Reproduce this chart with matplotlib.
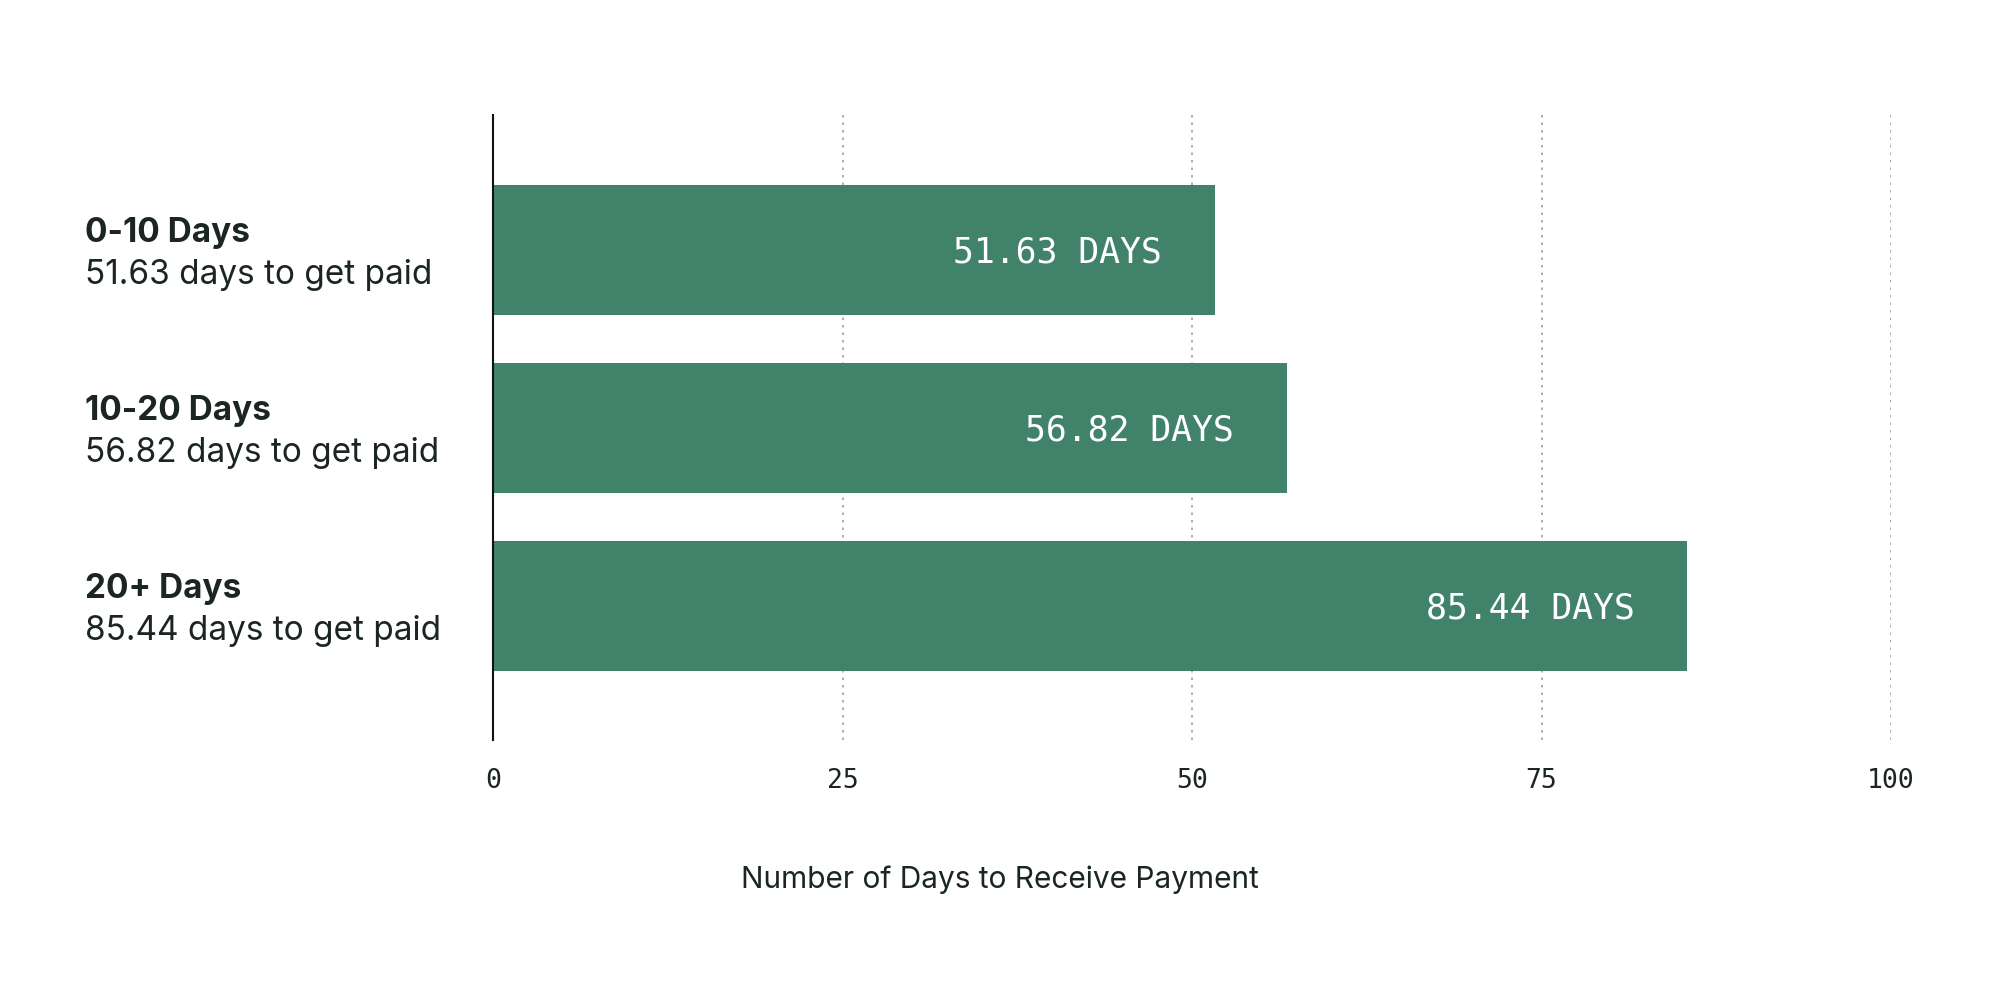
import matplotlib
matplotlib.use("Agg")
import matplotlib.pyplot as plt

categories = ["0-10 Days", "10-20 Days", "20+ Days"]
values = [51.63, 56.82, 85.44]
subtitles = ["51.63 days to get paid", "56.82 days to get paid", "85.44 days to get paid"]
bar_labels = ["51.63 DAYS", "56.82 DAYS", "85.44 DAYS"]
xticks = [0, 25, 50, 75, 100]

W, H = 2000, 1005
fig = plt.figure(figsize=(W / 100, H / 100), dpi=100)
ax = fig.add_axes([493 / W, 1 - 740 / H, (1891 - 493) / W, (740 - 115) / H])

bar_color = "#41826A"
text_color = "#1B2621"
y = list(range(len(categories)))
ax.barh(y, values, height=0.73, color=bar_color, zorder=2)
ax.set_xlim(0, 100)
ax.set_ylim(2.75, -0.76)

for xv in xticks[1:]:
    ax.axvline(xv, color="#A0A0A0", linestyle=(0, (1.5, 3)), linewidth=1.2, zorder=1)

for s in ["top", "right", "bottom"]:
    ax.spines[s].set_visible(False)
ax.spines["left"].set_color("#111111")
ax.spines["left"].set_linewidth(1.5)
ax.spines["left"].set_zorder(3)

ax.set_yticks([])
ax.set_xticks(xticks)
ax.set_xticklabels([str(t) for t in xticks], family="DejaVu Sans Mono", fontsize=19, color=text_color)
ax.tick_params(axis="x", length=0, pad=20)

ax.set_xlabel("Number of Days to Receive Payment", family="Inter", fontsize=21.5,
              color=text_color, va="center")
ax.xaxis.set_label_coords((1000 - 493) / 1398, (740 - 880) / 625)

for i, (v, lab) in enumerate(zip(values, bar_labels)):
    ax.text(v - 3.8, i + 0.01, lab, ha="right", va="center", family="DejaVu Sans Mono",
            fontsize=25, color="white", zorder=4)

for i, (cat, sub) in enumerate(zip(categories, subtitles)):
    yc = 1 - (254 + i * 178) / H
    fig.text(85 / W, yc + 0.021, cat, ha="left", va="center", family="Inter",
             fontsize=24, fontweight="bold", color=text_color)
    fig.text(85 / W, yc - 0.021, sub, ha="left", va="center", family="Inter",
             fontsize=24, color=text_color)

fig.savefig("out.png", dpi=100, facecolor="white")
